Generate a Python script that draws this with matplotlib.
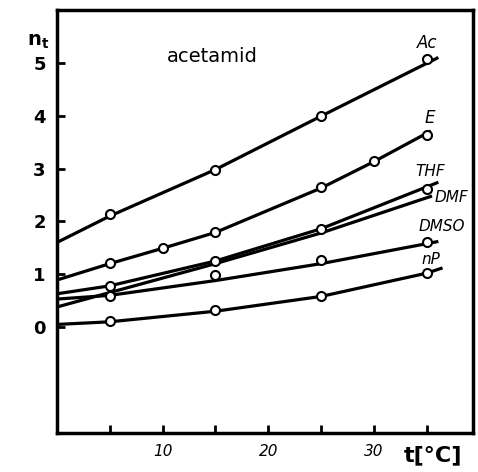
import matplotlib
matplotlib.use("Agg")
import matplotlib.pyplot as plt

# measured points (open circles)
ac_t = [5, 15, 25, 35]
ac_n = [2.13, 2.98, 3.99, 5.08]
e_t = [5, 10, 15, 25, 30, 35]
e_n = [1.21, 1.50, 1.79, 2.65, 3.14, 3.63]
thf_t = [5, 15, 25, 35]
thf_n = [0.78, 1.25, 1.86, 2.62]
dmso_t = [5, 15, 25, 35]
dmso_n = [0.59, 0.98, 1.26, 1.61]
np_t = [5, 15, 25, 35]
np_n = [0.12, 0.32, 0.59, 1.03]

# fitted curves
ac_curve_t = [0, 5, 15, 25, 36.1]
ac_curve_n = [1.60, 2.10, 2.98, 3.99, 5.10]
e_curve_t = [0, 5, 10, 15, 25, 30, 35.4]
e_curve_n = [0.89, 1.20, 1.49, 1.79, 2.63, 3.13, 3.71]
thf_curve_t = [0, 5, 15, 25, 36.1]
thf_curve_n = [0.63, 0.78, 1.25, 1.86, 2.74]
dmf_curve_t = [0, 15, 25, 35.5]
dmf_curve_n = [0.38, 1.20, 1.78, 2.48]
dmso_curve_t = [0, 5, 15, 25, 36.1]
dmso_curve_n = [0.53, 0.60, 0.88, 1.20, 1.62]
np_curve_t = [0, 5, 15, 25, 35, 36.5]
np_curve_n = [0.05, 0.10, 0.30, 0.58, 1.02, 1.12]

labels = ["Ac", "E", "THF", "DMF", "DMSO", "nP"]
label_pos = [(35.0, 5.37), (35.3, 3.95), (35.3, 2.95), (37.3, 2.45), (36.4, 1.91), (35.4, 1.27)]

fig = plt.figure(figsize=(4.78, 4.72), dpi=100)
ax = fig.add_axes([0.119, 0.083, 0.871, 0.896])

curves = [(ac_curve_t, ac_curve_n), (e_curve_t, e_curve_n), (thf_curve_t, thf_curve_n),
          (dmf_curve_t, dmf_curve_n), (dmso_curve_t, dmso_curve_n), (np_curve_t, np_curve_n)]
for ct, cn in curves:
    ax.plot(ct, cn, color="black", lw=2.3, solid_capstyle="butt")

points = [(ac_t, ac_n), (e_t, e_n), (thf_t, thf_n), (dmso_t, dmso_n), (np_t, np_n)]
for pt, pn in points:
    ax.plot(pt, pn, "o", ms=6.5, mfc="white", mec="black", mew=1.5, zorder=3)

for lab, (lx, ly) in zip(labels, label_pos):
    ax.text(lx, ly, lab, ha="center", va="center", fontsize=12 if lab in ("Ac", "E") else 11,
            style="italic",
            family="DejaVu Sans Condensed" if lab not in ("Ac", "E") else "DejaVu Sans")

ax.text(14.7, 5.11, "acetamid", ha="center", va="center", fontsize=14)

ax.set_xlim(0, 39.4)
ax.set_ylim(-2, 6)
ax.set_xticks([5, 10, 15, 20, 25, 30, 35])
ax.set_xticklabels(["", "10", "", "20", "", "30", ""], style="italic", fontsize=11)
ax.set_yticks([0, 1, 2, 3, 4, 5])
ax.set_yticklabels(["0", "1", "2", "3", "4", "5"], fontsize=13, fontweight="bold")
ax.tick_params(direction="in", length=6, width=2, pad=8)
for s in ax.spines.values():
    s.set_linewidth(2.5)

ax.text(35.6, -2.42, "t[°C]", ha="center", va="center", fontsize=16, fontweight="bold")
fig.text(0.08, 0.912, r"$\mathbf{n}_{\mathbf{t}}$", ha="center", va="center", fontsize=14)

fig.savefig("out.png", dpi=100)
